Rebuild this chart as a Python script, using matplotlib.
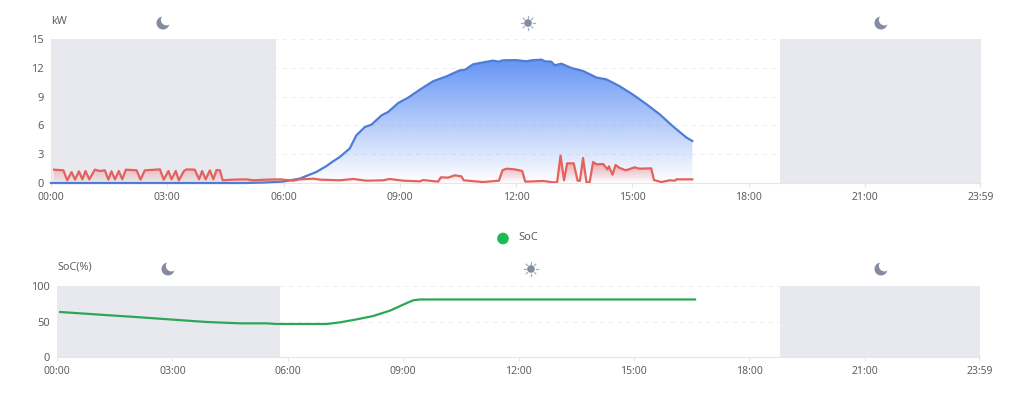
# -*- coding: utf-8 -*-
import matplotlib
matplotlib.use('Agg')
import matplotlib.pyplot as plt
from matplotlib.patches import Circle, Polygon
import numpy as np

plt.rcParams['font.family'] = ['Noto Sans', 'DejaVu Sans']

# values (hours, kW / %)
pv_hours = [0, 5.0, 5.5, 6.0, 6.42, 6.85, 7.11, 7.28, 7.45, 7.71, 7.88, 8.1, 8.27, 8.53, 8.7, 8.96, 9.22, 9.52, 9.86,
            10.2, 10.55, 10.68, 10.89, 11.07, 11.41, 11.54, 11.67, 12.0, 12.27, 12.4, 12.66, 12.75, 12.91,
            13.0, 13.17, 13.43, 13.73, 14.08, 14.33, 14.68, 15.02, 15.37, 15.71, 16.05, 16.4, 16.55]
pv_kw = [0, 0, 0.05, 0.15, 0.46, 1.15, 1.77, 2.26, 2.7, 3.6, 4.97, 5.83, 6.08, 7.05, 7.4, 8.33, 8.9, 9.73, 10.6,
         11.1, 11.74, 11.78, 12.36, 12.5, 12.75, 12.64, 12.78, 12.8, 12.68, 12.78, 12.85, 12.67, 12.64,
         12.26, 12.43, 11.98, 11.67, 10.98, 10.8, 10.07, 9.2, 8.2, 7.15, 5.9, 4.73, 4.38]

load_hours = [0.08, 0.32, 0.42, 0.53, 0.62, 0.72, 0.81, 0.89, 0.99, 1.13, 1.26, 1.39, 1.48, 1.56, 1.65,
              1.75, 1.84, 1.93, 2.21, 2.31, 2.42, 2.81, 2.91, 3.03, 3.11, 3.22, 3.30, 3.43, 3.50, 3.71,
              3.82, 3.90, 3.99, 4.10, 4.19, 4.27, 4.36, 4.43, 4.70, 5.05, 5.22, 5.56, 5.91, 6.25, 6.42,
              6.77, 6.94, 7.45, 7.80, 8.14, 8.57, 8.74, 9.09, 9.52, 9.60, 9.99, 10.06, 10.25, 10.42,
              10.59, 10.65, 11.15, 11.56, 11.65, 11.75, 11.97, 12.16, 12.24, 12.70, 12.96, 13.06, 13.15,
              13.24, 13.32, 13.49, 13.59, 13.65, 13.73, 13.82, 13.90, 13.99, 14.08, 14.25, 14.36, 14.40,
              14.49, 14.57, 14.66, 14.83, 15.06, 15.19, 15.49, 15.56, 15.75, 15.97, 16.10, 16.14, 16.55]
load_kw = [1.39, 1.32, 0.28, 1.14, 0.35, 1.22, 0.38, 1.25, 0.38, 1.39, 1.25, 1.32, 0.35, 1.22, 0.38,
           1.25, 0.38, 1.39, 1.32, 0.35, 1.32, 1.42, 0.35, 1.25, 0.38, 1.25, 0.28, 1.25, 1.42, 1.39,
           0.38, 1.25, 0.38, 1.32, 0.38, 1.35, 1.32, 0.28, 0.35, 0.38, 0.28, 0.35, 0.38, 0.24, 0.38,
           0.45, 0.35, 0.28, 0.42, 0.24, 0.28, 0.42, 0.24, 0.17, 0.31, 0.14, 0.59, 0.56, 0.80,
           0.69, 0.28, 0.10, 0.24, 1.32, 1.49, 1.42, 1.25, 0.14, 0.21, 0.07, 0.07, 2.85,
           0.28, 2.05, 2.05, 0.24, 0.24, 2.60, 0.07, 0.07, 2.19, 1.94, 1.98, 1.42, 1.74,
           0.87, 1.88, 1.60, 1.32, 1.63, 1.49, 1.53, 0.31, 0.10, 0.28, 0.24, 0.38, 0.38]

soc_hours = [0.08, 1.12, 2.16, 3.02, 3.89, 4.76, 5.45, 5.71, 7.01, 7.36, 7.79, 8.22, 8.66, 9.0, 9.26, 9.42, 16.59]
soc_pct = [63.4, 59.6, 55.9, 52.6, 49.3, 47.4, 47.4, 46.5, 46.5, 48.8, 53, 57.7, 65.3, 73.7, 79.8, 81, 81]

tick_hours = [0, 3, 6, 9, 12, 15, 18, 21, 23.983]
tick_labels = ['00:00', '03:00', '06:00', '09:00', '12:00', '15:00', '18:00', '21:00', '23:59']
night_spans = [(0, 5.8), (18.8, 24)]

W, H = 1024, 403
TEXT = '#5f5f5f'
GRID = '#efefef'
NIGHT = '#e8e9ee'
ICON = '#858ca1'


def make_axes(fig, left, right, top, bottom):
    """Оси по пиксельным координатам картинки"""
    ax = fig.add_axes([left / W, 1 - bottom / H, (right - left) / W, (bottom - top) / H])
    for name in ['top', 'left', 'right']:
        ax.spines[name].set_visible(False)
    ax.spines['bottom'].set_color('#e6e6e6')
    ax.set_xlim(0, 24)
    ax.set_xticks(tick_hours)
    ax.set_xticklabels(tick_labels)
    ax.tick_params(axis='x', length=3, color='#e6e6e6', labelsize=7.5, labelcolor=TEXT, pad=3.5)
    ax.tick_params(axis='y', length=0, labelsize=8, labelcolor=TEXT, pad=5)
    ax.grid(True, axis='y', linestyle=(0, (4, 4)), color=GRID, linewidth=0.8, zorder=0)
    ax.set_axisbelow(True)
    for start, end in night_spans:
        ax.axvspan(start, end, color=NIGHT, lw=0, zorder=1)
    return ax


def gradient_fill(ax, x, y, color, top_alpha, zorder):
    """Заливка под линией с градиентом до нуля"""
    rgba = np.zeros((256, 1, 4))
    rgba[:, 0, :3] = matplotlib.colors.to_rgb(color)
    rgba[:, 0, 3] = np.linspace(top_alpha, 0.0, 256)
    img = ax.imshow(rgba, extent=[min(x), max(x), 0, max(y)], aspect='auto', origin='upper', zorder=zorder)
    poly = Polygon(list(zip(x, y)) + [(x[-1], 0), (x[0], 0)], closed=True, transform=ax.transData)
    img.set_clip_path(poly)


def draw_moon(ov, cx, cy):
    ov.add_patch(Circle((cx, cy), 6.5, color=ICON, lw=0, zorder=5))
    ov.add_patch(Circle((cx + 3.5, cy - 3.2), 5.6, color='white', lw=0, zorder=6))


def draw_sun(ov, cx, cy):
    ov.add_patch(Circle((cx, cy), 3.8, color=ICON, lw=0, zorder=5))
    for ang in np.arange(0, 360, 45):
        a = np.radians(ang)
        ov.plot([cx + 5 * np.cos(a), cx + 6.8 * np.cos(a)], [cy + 5 * np.sin(a), cy + 6.8 * np.sin(a)],
                color=ICON, lw=0.9, alpha=0.7, zorder=5)


fig = plt.figure(figsize=(W / 100, H / 100), dpi=100)

# верхний график
ax1 = make_axes(fig, 51, 981, 39, 183)
gradient_fill(ax1, pv_hours, pv_kw, '#6594f5', 1.0, 2)
gradient_fill(ax1, load_hours, load_kw, '#ee6a66', 0.7, 3)
ax1.plot(pv_hours, pv_kw, color='#4f7dd6', lw=1.6, zorder=4, clip_on=False)
ax1.plot(load_hours, load_kw, color='#e4625e', lw=1.6, zorder=5)
ax1.set_xlim(0, 24)
ax1.set_ylim(0, 15)
ax1.set_yticks([0, 3, 6, 9, 12, 15])

# нижний график
ax2 = make_axes(fig, 57, 980, 286, 357)
ax2.plot(soc_hours, soc_pct, color='#2ea65a', lw=1.6, zorder=4)
ax2.set_xlim(0, 24)
ax2.set_ylim(0, 100)
ax2.set_yticks([0, 50, 100])

# подписи и значки в пикселях
ov = fig.add_axes([0, 0, 1, 1], facecolor='none')
ov.set_xlim(0, W)
ov.set_ylim(H, 0)
ov.axis('off')
ov.text(51, 21, 'kW', fontsize=7.8, color=TEXT, va='center')
ov.text(57, 267, 'SoC(%)', fontsize=7.8, color=TEXT, va='center')
ov.text(518, 238, 'SoC', fontsize=8, color=TEXT, va='center')
ov.add_patch(Circle((503, 238.5), 5.8, color='#1db954', lw=0))
draw_moon(ov, 163, 23)
draw_sun(ov, 528, 23)
draw_moon(ov, 881, 23)
draw_moon(ov, 168, 269)
draw_sun(ov, 531, 269)
draw_moon(ov, 881, 269)

fig.savefig('out.png', dpi=100)
plt.close(fig)
